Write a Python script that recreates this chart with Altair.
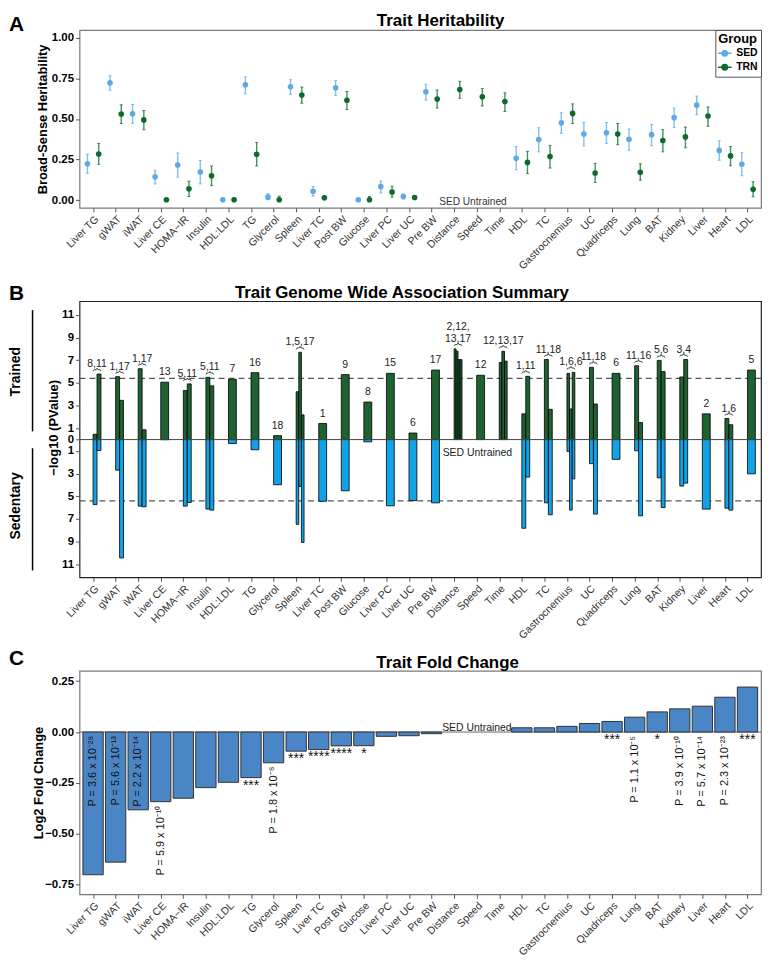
import altair as alt
import pandas as pd

# ------------------------------------------------------------------ data
traits = ["Liver TG", "gWAT", "iWAT", "Liver CE", "HOMA−IR", "Insulin", "HDL:LDL", "TG",
          "Glycerol", "Spleen", "Liver TC", "Post BW", "Glucose", "Liver PC", "Liver UC",
          "Pre BW", "Distance", "Speed", "Time", "HDL", "TC", "Gastrocnemius", "UC",
          "Quadriceps", "Lung", "BAT", "Kidney", "Liver", "Heart", "LDL"]

# Panel A: broad-sense heritability (estimate, lower, upper)
sed_h = [0.224, 0.722, 0.532, 0.143, 0.216, 0.173, 0.002, 0.710, 0.018, 0.698, 0.054, 0.692, 0.002,
         0.083, 0.022, 0.667, None, None, None, 0.258, 0.373, 0.476, 0.407, 0.415, 0.375, 0.403,
         0.508, 0.585, 0.306, 0.221]
sed_lo = [0.165, 0.677, 0.472, 0.099, 0.141, 0.100, 0.000, 0.655, 0.002, 0.651, 0.024, 0.645, 0.000,
          0.044, 0.007, 0.616, None, None, None, 0.187, 0.297, 0.411, 0.333, 0.349, 0.307, 0.335,
          0.447, 0.526, 0.245, 0.150]
sed_hi = [0.282, 0.766, 0.589, 0.183, 0.290, 0.244, 0.010, 0.760, 0.040, 0.742, 0.083, 0.736, 0.010,
          0.117, 0.037, 0.714, None, None, None, 0.330, 0.446, 0.538, 0.478, 0.478, 0.438, 0.466,
          0.567, 0.641, 0.365, 0.292]
trn_h = [0.284, 0.530, 0.494, 0.002, 0.069, 0.149, 0.002, 0.282, 0.002, 0.647, 0.014, 0.615, 0.002,
         0.050, 0.016, 0.623, 0.681, 0.637, 0.607, 0.232, 0.268, 0.534, 0.167, 0.407, 0.171, 0.367,
         0.389, 0.518, 0.272, 0.066]
trn_lo = [0.220, 0.472, 0.433, 0.000, 0.022, 0.089, 0.000, 0.210, 0.000, 0.597, 0.002, 0.558, 0.000,
          0.018, 0.010, 0.567, 0.627, 0.580, 0.546, 0.163, 0.197, 0.472, 0.108, 0.341, 0.122, 0.297,
          0.322, 0.455, 0.211, 0.020]
trn_hi = [0.349, 0.587, 0.552, 0.006, 0.117, 0.210, 0.012, 0.355, 0.024, 0.696, 0.026, 0.669, 0.022,
          0.085, 0.022, 0.678, 0.732, 0.688, 0.661, 0.300, 0.337, 0.593, 0.226, 0.472, 0.224, 0.434,
          0.450, 0.574, 0.330, 0.113]

# Panel B: GWAS loci (chromosomes), -log10 P for trained (up) and sedentary (down)
gwas_loci = ["8,11", "1,17", "1,17", "13", "5,11", "5,11", "7", "16", "18", "1,5,17", "1", "9", "8",
             "15", "6", "17", "2,12,\n13,17", "12", "12,13,17", "1,11", "11,18", "1,6,6", "11,18",
             "6", "11,16", "5,6", "3,4", "2", "1,6", "5"]
gwas_trn = [[0.47, 5.78], [5.55, 3.46], [6.25, 0.87], [5.06], [4.33, 4.91], [5.49, 4.74], [5.32],
            [5.90], [0.35], [4.22, 7.70, 2.18], [1.42], [5.73], [3.31], [5.84], [0.58], [6.13],
            [8.00, 7.80, 7.05, 7.05], [5.67], [6.80, 7.79, 6.92], [2.27, 5.58], [7.06, 2.67],
            [5.84, 2.70, 5.93], [6.37, 3.14], [5.84], [6.51, 1.51], [6.98, 5.99], [5.52, 7.06],
            [2.27], [1.86, 1.31], [6.13]]
gwas_sed = [[5.73, 0.96], [2.70, 10.44], [5.87, 5.93], [0.0], [5.87, 5.55], [6.13, 6.22], [0.35],
            [0.90], [3.98], [7.47, 4.13, 9.07], [5.44], [4.51], [0.20], [5.84], [5.38], [5.58],
            None, None, None, [7.82, 3.31], [5.58, 6.63], [1.05, 6.22, 3.46], [2.12, 6.57], [1.74],
            [0.99, 6.72], [3.37, 5.99], [4.10, 3.84], [6.13], [6.05, 6.22], [3.02]]
gwas_threshold = 5.4

# Panel C: log2 fold change TRN vs SED
fold_change = [-0.701, -0.639, -0.382, -0.342, -0.325, -0.273, -0.247, -0.224, -0.151, -0.094,
               -0.086, -0.068, -0.067, -0.021, -0.018, -0.008, None, None, None, 0.021, 0.021,
               0.028, 0.042, 0.052, 0.073, 0.099, 0.114, 0.127, 0.171, 0.221]
fold_note = ["P = 3.6 x 10⁻²⁸", "P = 5.6 x 10⁻¹³", "P = 2.2 x 10⁻¹⁴", "P = 5.9 x 10⁻¹⁰", "", "", "",
             "***", "P = 1.8 x 10⁻⁸", "***", "****", "****", "*", "", "", "", "", "", "", "", "",
             "", "", "***", "P = 1.1 x 10⁻⁵", "*", "P = 3.9 x 10⁻¹⁰", "P = 5.7 x 10⁻¹⁴",
             "P = 2.3 x 10⁻²³", "***"]

# ------------------------------------------------------------------ style
FONT = "Liberation Sans"
PW = 686
HA, HB, HC = 179, 278, 225
GAP = 94
X_DOM = [-0.6, 29.6]
GROUP_W = 0.35
SED_A, TRN_A = "#5FA9E6", "#0C6A2C"
GREEN_B, BLUE_B = "#1E6232", "#12A3E6"
BAR_C = "#4A86C6"

one = pd.DataFrame({"k": [0]})


def ptext(txt, x, y, **kw):
    return alt.Chart(one).mark_text(text=txt, **kw).encode(x=alt.value(x), y=alt.value(y))


def prule(x, y, y2, **kw):
    return alt.Chart(one).mark_rule(**kw).encode(x=alt.value(x), y=alt.value(y), y2=alt.value(y2))


label_expr = "[" + ",".join("'" + t + "'" for t in traits) + "][datum.value]"


def xaxis():
    return alt.Axis(values=list(range(len(traits))), labelExpr=label_expr, labelAngle=-45,
                    labelFontSize=10.6, labelColor="#333333", labelOverlap=False, labelFlush=False,
                    labelPadding=2, tickColor="#555555", tickSize=4, domain=False, grid=False,
                    title=None)


def xenc(field):
    return alt.X(field, type="quantitative", scale=alt.Scale(domain=X_DOM, nice=False, zero=False),
                 axis=xaxis())


def yaxis(values, title, tx, ty, fmt=None, expr=None):
    kw = dict(values=values, labelFontSize=11.5, labelFontWeight="bold", labelColor="black",
              labelOverlap=False, labelFlush=False,
              tickColor="#555555", tickSize=4, labelPadding=2, domain=False, grid=False,
              title=title, titleFontSize=13, titleFontWeight="bold", titleColor="black",
              titleAngle=270, titleAlign="center", titleBaseline="middle", titleX=tx, titleY=ty)
    if fmt:
        kw["format"] = fmt
    if expr:
        kw["labelExpr"] = expr
    return alt.Axis(**kw)


# ------------------------------------------------------------------ panel A
rowsA = []
for i in range(len(traits)):
    if sed_h[i] is not None:
        rowsA.append({"idx": i, "group": "SED", "h": sed_h[i], "lo": sed_lo[i], "hi": sed_hi[i]})
    rowsA.append({"idx": i, "group": "TRN", "h": trn_h[i], "lo": trn_lo[i], "hi": trn_hi[i]})
dfA = pd.DataFrame(rowsA)

yA_scale = alt.Scale(domain=[-0.048, 1.048], nice=False, zero=False)
yA_axis = yaxis([0, 0.25, 0.5, 0.75, 1.0], "Broad-Sense Heritability", -37, HA / 2, fmt=".2f")
legA = alt.Legend(title="Group", orient="top-right", offset=0, padding=3, strokeColor="#555555",
                  fillColor="white", titleFontSize=13, titleFontWeight="bold", titleColor="black",
                  labelFontSize=10.5, labelFontWeight="bold", labelColor="black",
                  symbolType="M-1.25,0H1.25M-0.5,0A0.5,0.5,0,1,0,0.5,0A0.5,0.5,0,1,0,-0.5,0Z",
                  symbolSize=121, symbolStrokeWidth=1.5, rowPadding=1, titlePadding=1,
                  labelOffset=5, symbolOpacity=1)
colA = alt.Color("group:N", scale=alt.Scale(domain=["SED", "TRN"], range=[SED_A, TRN_A]),
                 legend=legA)

baseA = alt.Chart(dfA).transform_calculate(
    xp="datum.idx + (datum.group == 'SED' ? -0.25 : 0.25)")
errA = baseA.mark_rule(strokeWidth=1.4, opacity=0.75).encode(
    x=xenc("xp"), y=alt.Y("lo:Q", scale=yA_scale, axis=yA_axis), y2="hi:Q", color=colA)
capA = baseA.transform_fold(["lo", "hi"], as_=["end", "v"]).mark_tick(
    orient="horizontal", size=3, thickness=1, opacity=0.75).encode(
    x=xenc("xp"), y=alt.Y("v:Q", scale=yA_scale, axis=yA_axis), color=colA)
ptA = baseA.mark_circle(size=32, opacity=1).encode(
    x=xenc("xp"), y=alt.Y("h:Q", scale=yA_scale, axis=yA_axis), color=colA)

panelA = alt.layer(
    errA, capA, ptA,
    ptext("SED Untrained", 396, 173, fontSize=10.2, color="#333333", align="center"),
    ptext("A", -71, -5, fontSize=21, fontWeight="bold", align="left", color="black"),
    ptext("Trait Heritability", 363.5, -8.7, fontSize=17, fontWeight="bold", align="center",
          color="black"),
).properties(width=PW, height=HA, view=alt.ViewBackground(stroke="#7a7a7a", strokeWidth=1.2))

# ------------------------------------------------------------------ panel B
rowsB = []
for i in range(len(traits)):
    n = len(gwas_trn[i])
    for j in range(n):
        rowsB.append({"idx": i, "j": j, "n": n, "trn": gwas_trn[i][j],
                      "sed": gwas_sed[i][j] if gwas_sed[i] is not None else None})
dfB = pd.DataFrame(rowsB)

dfBL = pd.DataFrame({"idx": list(range(len(traits))), "label": gwas_loci,
                     "top": [max(v) for v in gwas_trn]})

brace = []
for i in range(len(traits)):
    if len(gwas_trn[i]) < 2:
        continue
    top = max(gwas_trn[i])
    x0, x1 = i, i + GROUP_W
    xm = (x0 + x1) / 2
    b, m, p, e = top + 0.25, top + 0.38, top + 0.52, 0.04
    pts = [(x0, b), (x0 + e, m), (xm - e, m), (xm, p), (xm + e, m), (x1 - e, m), (x1, b)]
    for k, (bx, by) in enumerate(pts):
        brace.append({"idx": i, "k": k, "bx": bx, "by": by})
dfBr = pd.DataFrame(brace)

yB_scale = alt.Scale(domain=[-12.15, 12.2], nice=False, zero=False)
yB_axis = yaxis([-11, -9, -7, -5, -3, -1, 0, 1, 3, 5, 7, 9, 11], "−log10 (PValue)", -26.5,
                HB / 2 - 12, expr="abs(datum.value)")

baseB = alt.Chart(dfB).transform_calculate(
    x0=f"datum.idx + datum.j*{GROUP_W}/datum.n",
    x1=f"datum.idx + (datum.j+1)*{GROUP_W}/datum.n",
    zero="0")
thrB = alt.Chart(pd.DataFrame({"thr": [gwas_threshold, -gwas_threshold]})).mark_rule(
    strokeDash=[6, 4], color="#555555", strokeWidth=1.2).encode(
    y=alt.Y("thr:Q", scale=yB_scale, axis=yB_axis))
trnB = baseB.mark_rect(fill=GREEN_B, stroke="black", strokeWidth=0.8).encode(
    x=xenc("x0"), x2="x1:Q", y=alt.Y("trn:Q", scale=yB_scale, axis=yB_axis), y2="zero:Q")
sedB = baseB.transform_filter("isValid(datum.sed)").transform_calculate(
    neg="-datum.sed").mark_rect(fill=BLUE_B, stroke="black", strokeWidth=0.8).encode(
    x=xenc("x0"), x2="x1:Q", y=alt.Y("neg:Q", scale=yB_scale, axis=yB_axis), y2="zero:Q")
zeroB = alt.Chart(pd.DataFrame({"z": [0]})).mark_rule(color="#444444", strokeWidth=1).encode(
    y=alt.Y("z:Q", scale=yB_scale, axis=yB_axis))
lblB = alt.Chart(dfBL).transform_calculate(
    xc=f"datum.idx + {GROUP_W}/2",
    nl="length(split(datum.label, '\\n'))",
    yt="datum.top + (datum.nl - 1) * 1.05").mark_text(
    baseline="bottom", dy=-5, fontSize=10.5, color="#222222", lineBreak="\n", lineHeight=12).encode(
    x=xenc("xc"), y=alt.Y("yt:Q", scale=yB_scale, axis=yB_axis), text="label:N")
brB = alt.Chart(dfBr).mark_line(color="#222222", strokeWidth=0.8).encode(
    x=xenc("bx"), y=alt.Y("by:Q", scale=yB_scale, axis=yB_axis), detail="idx:N", order="k:Q")

panelB = alt.layer(
    thrB, trnB, sedB, zeroB, lblB, brB,
    ptext("SED Untrained", 400.5, 153, fontSize=10.5, color="#222222", align="center"),
    ptext("B", -71, -7, fontSize=21, fontWeight="bold", align="left", color="black"),
    ptext("Trait Genome Wide Association Summary", 324.5, -8.5, fontSize=17, fontWeight="bold",
          align="center", color="black"),
    ptext("Trained", -64, 71, fontSize=14, fontWeight="bold", angle=270, align="center",
          baseline="middle", color="black"),
    ptext("Sedentary", -64, 206, fontSize=14, fontWeight="bold", angle=270, align="center",
          baseline="middle", color="black"),
    prule(-47.3, 9, 131, color="black", strokeWidth=1.5),
    prule(-47.3, 148, 271, color="black", strokeWidth=1.5),
).properties(width=PW, height=HB, view=alt.ViewBackground(stroke="#222222", strokeWidth=1.2))

# ------------------------------------------------------------------ panel C
dfC = pd.DataFrame({"idx": list(range(len(traits))), "fc": fold_change, "note": fold_note})
yC_scale = alt.Scale(domain=[-0.797, 0.301], nice=False, zero=False)
yC_axis = yaxis([-0.75, -0.5, -0.25, 0, 0.25], "Log2 Fold Change", -41.5, HC / 2, fmt=".2f")

zeroC = alt.Chart(pd.DataFrame({"z": [0]})).mark_rule(color="#666666", strokeWidth=1).encode(
    y=alt.Y("z:Q", scale=yC_scale, axis=yC_axis))
barC = alt.Chart(dfC).transform_filter("isValid(datum.fc)").transform_calculate(
    x0="datum.idx - 0.45", x1="datum.idx + 0.45", zero="0").mark_rect(
    fill=BAR_C, stroke="#333333", strokeWidth=1).encode(
    x=xenc("x0"), x2="x1:Q", y=alt.Y("fc:Q", scale=yC_scale, axis=yC_axis), y2="zero:Q")
pC = alt.Chart(dfC).transform_filter("test(/^P/, datum.note)").transform_calculate(
    anc="datum.fc > 0 || datum.fc < -0.36 ? 0 : datum.fc").mark_text(
    angle=270, align="right", baseline="middle", dx=-4, fontSize=11, color="#111111").encode(
    x=xenc("idx"), y=alt.Y("anc:Q", scale=yC_scale, axis=yC_axis), text="note:N")
sC = alt.Chart(dfC).transform_filter("datum.note != '' && !test(/^P/, datum.note)").transform_calculate(
    anc="min(datum.fc, 0)").mark_text(
    baseline="top", dy=1, fontSize=14, color="#111111").encode(
    x=xenc("idx"), y=alt.Y("anc:Q", scale=yC_scale, axis=yC_axis), text="note:N")

panelC = alt.layer(
    zeroC, barC, pC, sC,
    ptext("SED Untrained", 400, 57.7, fontSize=10.5, color="#222222", align="center"),
    ptext("C", -71, -12, fontSize=21, fontWeight="bold", align="left", color="black"),
    ptext("Trait Fold Change", 370.5, -7.3, fontSize=17, fontWeight="bold", align="center",
          color="black"),
).properties(width=PW, height=HC, view=alt.ViewBackground(stroke="#7a7a7a", strokeWidth=1.2))

chart = alt.vconcat(panelA, panelB, panelC, spacing=GAP, bounds="flush").properties(
    padding=0).configure(font=FONT)

chart.save("out.html", embed_options={"renderer": "svg", "actions": False})
